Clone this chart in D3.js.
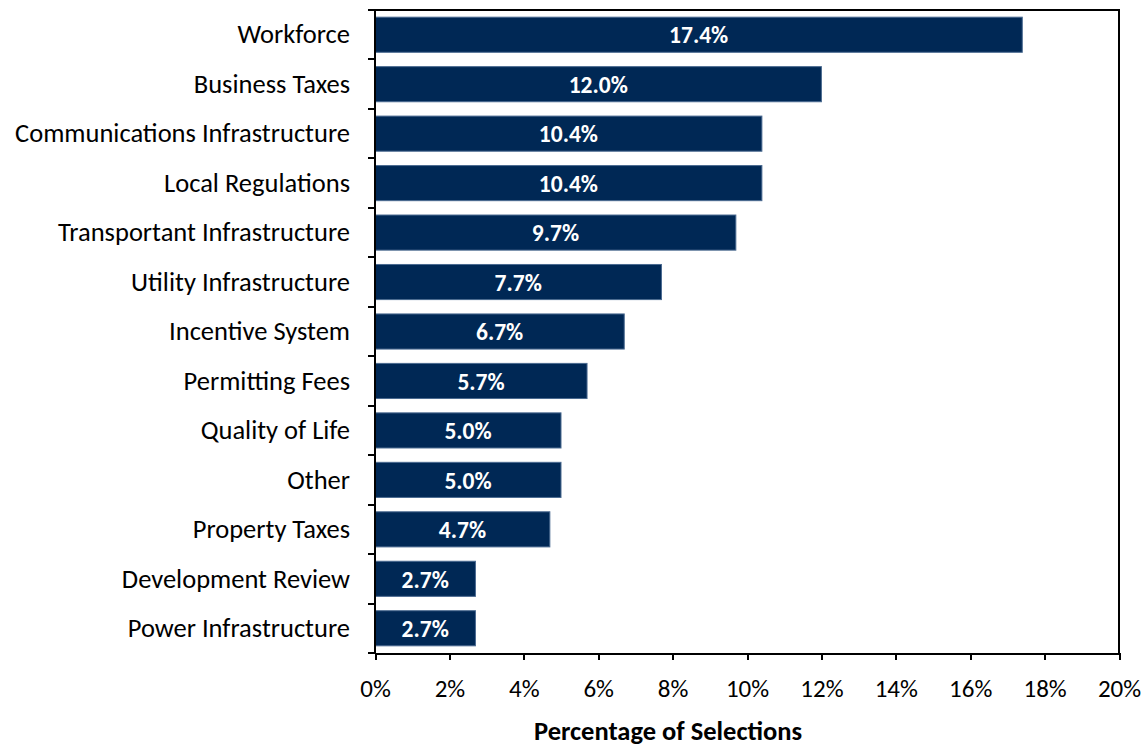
<!DOCTYPE html>
<html lang="en">
<head>
    <meta charset="UTF-8">
    <title>Percentage of Selections</title>
    <script src="https://d3js.org/d3.v7.min.js"></script>
    <style>
        body { margin: 0; background: #fff; }
        svg text { font-family: Carlito, Calibri, "Open Sans", sans-serif; }
        .axis path, .axis line { stroke: #000; stroke-width: 2px; shape-rendering: crispEdges; }
        .x.axis text { font-size: 25px; fill: #000; }
        .cat { font-size: 26.5px; fill: #000; }
        .bar { fill: #002855; stroke: #4a6a90; stroke-width: 1px; }
        .bar-label { fill: #fff; font-size: 23.5px; font-weight: bold; }
    </style>
</head>
<body>
<div id="chart"></div>
<script>
    // Data
    const categories = [
        "Workforce", "Business Taxes", "Communications Infrastructure", "Local Regulations",
        "Transportant Infrastructure", "Utility Infrastructure", "Incentive System",
        "Permitting Fees", "Quality of Life", "Other", "Property Taxes",
        "Development Review", "Power Infrastructure"
    ];
    const values = [17.4, 12.0, 10.4, 10.4, 9.7, 7.7, 6.7, 5.7, 5.0, 5.0, 4.7, 2.7, 2.7];
    const xTicks = [0, 2, 4, 6, 8, 10, 12, 14, 16, 18, 20];

    const data = categories.map((c, i) => ({name: c, value: values[i]}));

    const W = 1147, H = 746;
    const margin = {top: 10, right: 28, bottom: 93, left: 375};
    const width = W - margin.left - margin.right;
    const height = H - margin.top - margin.bottom;

    const svg = d3.select("#chart").append("svg")
        .attr("width", W)
        .attr("height", H);

    const g = svg.append("g")
        .attr("transform", "translate(" + margin.left + "," + margin.top + ")");

    const x = d3.scaleLinear().domain([0, 20]).range([0, width]);
    const y = d3.scaleBand().domain(categories).range([0, height]).paddingInner(0.29).paddingOuter(0.145);

    // frame (top and right)
    g.append("path")
        .attr("d", "M0,0H" + width + "V" + height)
        .attr("fill", "none")
        .attr("stroke", "#000")
        .attr("stroke-width", 2);

    // bars
    g.selectAll(".bar")
        .data(data)
        .enter().append("rect")
        .attr("class", "bar")
        .attr("x", 0)
        .attr("y", d => y(d.name))
        .attr("width", d => x(d.value))
        .attr("height", y.bandwidth());

    g.selectAll(".bar-label")
        .data(data)
        .enter().append("text")
        .attr("class", "bar-label")
        .attr("x", d => x(d.value) / 2)
        .attr("y", d => y(d.name) + y.bandwidth() / 2)
        .attr("dy", "0.37em")
        .attr("text-anchor", "middle")
        .text(d => d.value.toFixed(1) + "%");

    // x axis
    g.append("g")
        .attr("class", "x axis")
        .attr("transform", "translate(0," + height + ")")
        .call(d3.axisBottom(x).tickValues(xTicks).tickFormat(d => d + "%").tickSize(7).tickSizeOuter(7).tickPadding(19));

    // y axis: ticks sit on category boundaries
    const yAxis = g.append("g").attr("class", "y axis");
    const step = y.step();
    yAxis.append("line")
        .attr("x1", 0).attr("x2", 0)
        .attr("y1", 0).attr("y2", height);
    d3.range(categories.length + 1).forEach(i => {
        yAxis.append("line")
            .attr("x1", -7).attr("x2", 0)
            .attr("y1", i * step).attr("y2", i * step);
    });
    yAxis.selectAll(".cat")
        .data(categories)
        .enter().append("text")
        .attr("class", "cat")
        .attr("x", -25)
        .attr("y", d => y(d) + y.bandwidth() / 2)
        .attr("dy", "0.33em")
        .attr("text-anchor", "end")
        .text(d => d);

    // axis title
    svg.append("text")
        .attr("x", 668)
        .attr("y", 740)
        .attr("text-anchor", "middle")
        .style("font-size", "26.5px")
        .style("font-weight", "bold")
        .text("Percentage of Selections");
</script>
</body>
</html>
